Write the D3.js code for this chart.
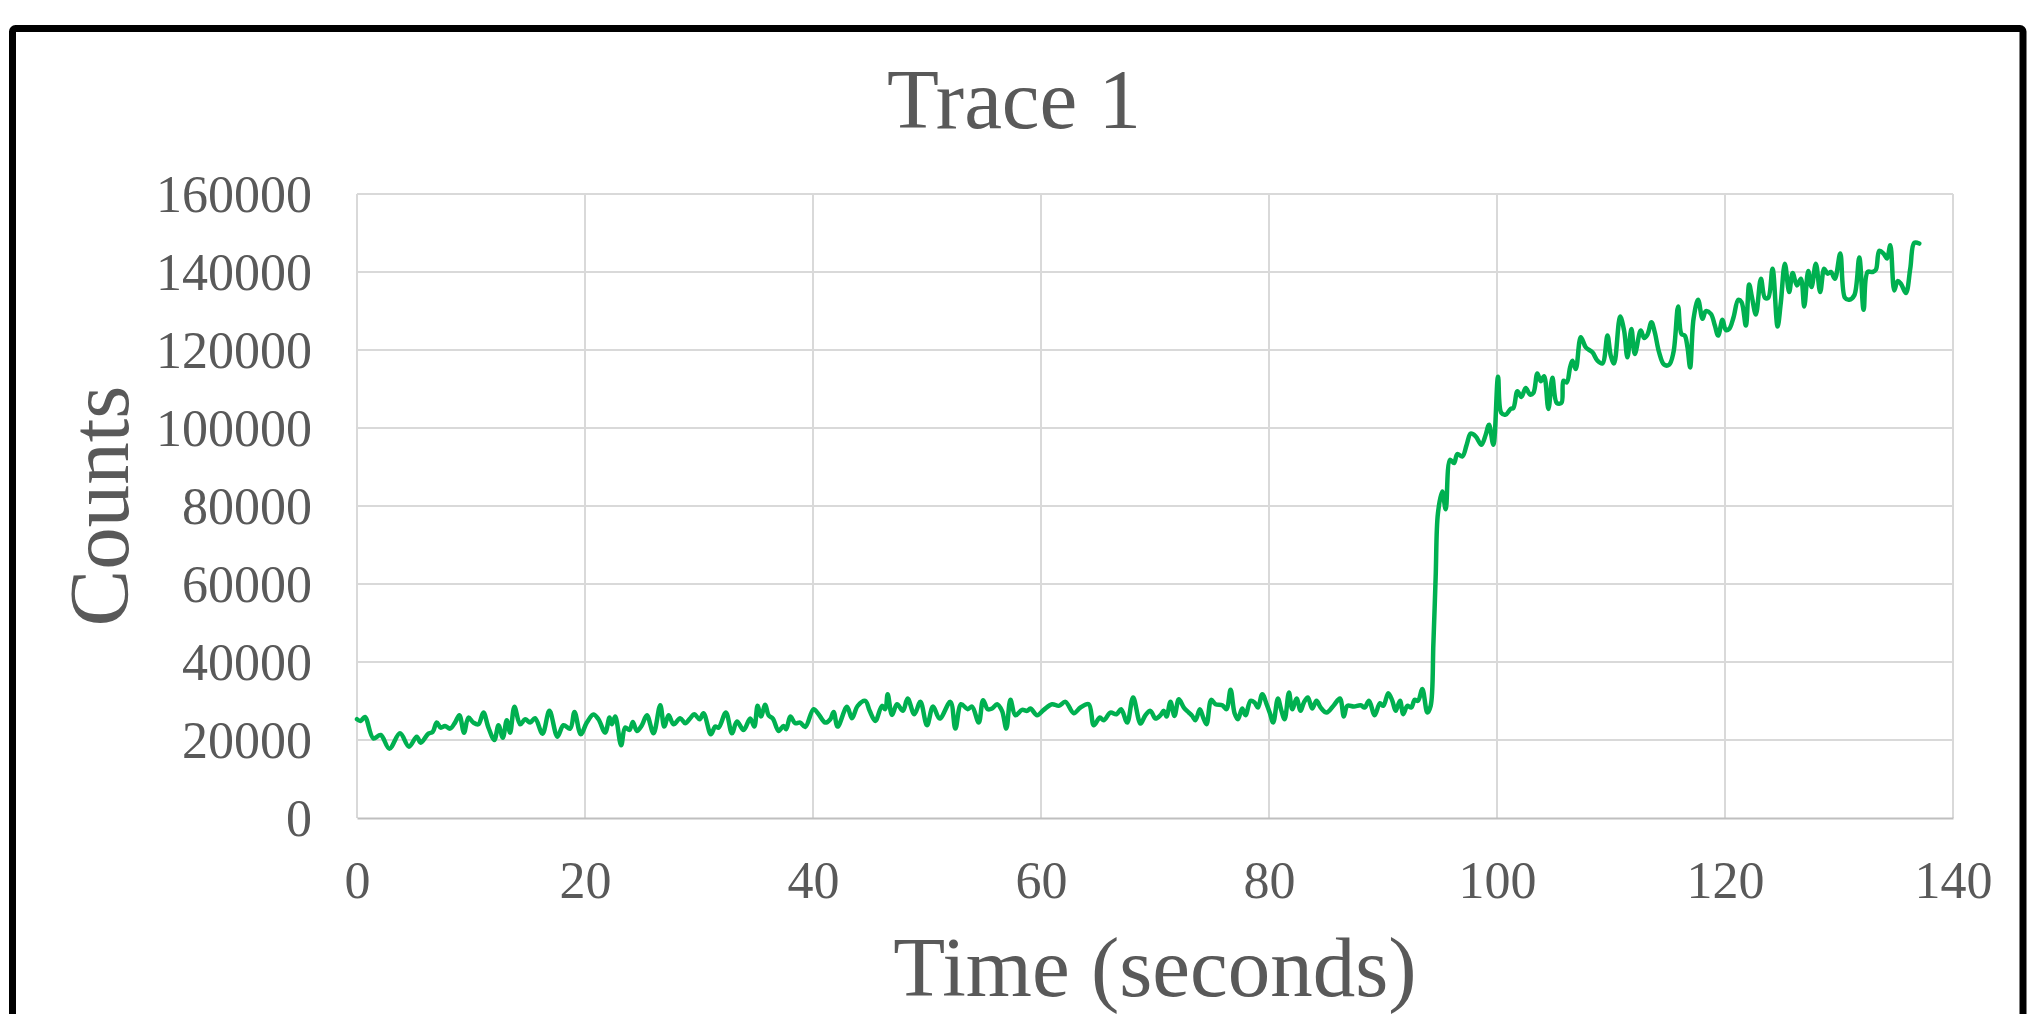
<!DOCTYPE html>
<html>
<head>
<meta charset="utf-8">
<script src="https://cdn.jsdelivr.net/npm/d3@7"></script>
<style>
  html, body { margin: 0; padding: 0; background: #ffffff; }
  svg { display: block; }
  text { font-family: "Liberation Serif", "Times New Roman", "DejaVu Serif", serif; fill: #595959; }
</style>
</head>
<body>
<svg id="chart" width="2027" height="1014"></svg>
<script>
const chartTitle = "Trace 1";
const xTitle = "Time (seconds)";
const yTitle = "Counts";
const xTicks = [0, 20, 40, 60, 80, 100, 120, 140];
const yTicks = [0, 20000, 40000, 60000, 80000, 100000, 120000, 140000, 160000];

const timeSec = [
  0.00, 0.32, 0.70, 1.43, 2.08, 2.84, 3.77, 4.56, 5.24, 5.59, 6.26, 6.64, 6.99, 7.34, 7.72, 8.16, 8.60, 8.98, 9.39, 9.77,
  10.21, 10.65, 11.09, 11.53, 12.05, 12.41, 12.79, 13.14, 13.43, 13.81, 14.31, 14.75, 15.18, 15.62, 16.27, 16.88, 17.58, 18.11, 18.70, 19.08,
  19.63, 20.16, 20.74, 21.18, 21.77, 22.15, 22.35, 22.65, 23.17, 23.52, 23.90, 24.20, 24.55, 24.99, 25.43, 26.01, 26.60, 26.95, 27.33, 27.77,
  28.35, 28.79, 29.23, 29.58, 30.05, 30.40, 31.04, 31.42, 31.72, 32.36, 32.89, 33.33, 33.91, 34.49,
  34.85, 35.14, 35.43, 35.81, 36.10, 36.48, 36.98, 37.42, 37.65, 38.01, 38.44, 38.88, 39.32, 40.05, 40.49, 41.08, 41.52, 41.81, 42.16, 42.98,
  43.42, 43.92, 44.59, 44.97, 45.47, 46.05, 46.34, 46.55, 46.93, 47.37, 47.89, 48.30, 48.89, 49.42, 50.00, 50.53, 51.11, 52.05, 52.49, 52.99,
  53.57, 53.95, 54.54, 54.92, 55.33, 55.71, 56.15, 56.58, 56.96, 57.32, 57.75, 58.34, 58.78, 59.07, 59.66, 60.24, 60.97, 61.56, 62.14, 62.87,
  63.46, 64.19, 64.63, 65.16, 65.51, 66.09, 66.62, 67.03, 67.56, 68.08, 68.73, 69.16, 69.60, 70.04,
  70.48, 70.77, 71.01, 71.36, 71.71, 72.09, 72.53, 72.97, 73.26, 73.55, 73.93, 74.23, 74.52, 74.93, 75.31, 75.90, 76.27, 76.63, 76.98, 77.27,
  77.65, 77.94, 78.38, 78.73, 79.03, 79.41, 79.79, 80.08, 80.37, 80.78, 81.07, 81.37, 81.75, 82.04, 82.42, 82.77, 83.06, 83.41, 83.79, 84.17,
  84.53, 85.05, 85.69, 86.22, 86.57, 86.87, 87.45, 88.04, 88.39, 88.77, 89.27, 89.73, 90.03, 90.46, 90.82, 91.11, 91.49, 91.78, 92.13, 92.48,
  92.78, 93.07, 93.45, 93.89, 94.18,
  94.42, 94.62, 94.82, 95.20, 95.50, 95.88, 96.23, 96.52, 96.96, 97.34, 97.69, 98.13, 98.63, 99.01, 99.30, 99.68, 100.09, 100.38, 100.76, 101.20,
  101.44, 101.79, 102.14, 102.52, 102.90, 103.19, 103.54, 103.84, 104.13, 104.51, 104.86, 105.24, 105.65,
  105.83, 106.12, 106.41, 106.62, 106.91, 107.35, 107.79, 108.37, 108.81, 109.25, 109.69, 109.98, 110.27, 110.80, 111.15, 111.44, 111.79, 112.09,
  112.61, 112.91, 113.20, 113.55, 113.84, 114.22, 114.66, 115.10, 115.48, 115.89, 116.18, 116.47, 116.71, 116.94, 117.24, 117.64, 118.03, 118.32, 118.76, 119.11,
  119.40, 119.78, 120.07, 120.37, 120.75, 121.16, 121.45, 121.83, 122.12, 122.36, 122.71, 123.15, 123.50, 123.79, 124.17, 124.61, 124.90, 125.25, 125.63, 125.93,
  126.31, 126.66, 126.95, 127.30, 127.59, 127.97, 128.35, 128.70, 129.00, 129.29, 129.64, 130.11, 130.52, 130.90, 131.34, 131.78, 132.16, 132.51, 132.95, 133.24,
  133.53, 133.91, 134.21, 134.50, 134.85, 135.14, 135.43, 135.87, 136.25, 136.60, 137.04
];

const counts = [
  25323, 24894, 25924, 20430, 21288, 17769, 21718, 18284, 20859, 19314, 21632, 22061, 24464, 23177, 23606, 22919, 24464, 26353, 21889, 25752,
  24464, 24035, 27040, 23177, 20001, 23778, 20602, 25065, 21889, 28499, 24035, 25323, 24464, 25580, 21632, 27469, 20859, 23778, 22919, 27211,
  21460, 24464, 26525, 25323, 21889, 25752, 24035, 26010, 18627, 23177, 22576, 24636, 22318, 23778, 26353, 21718, 28928, 23434, 26353, 24035,
  25580, 24293, 25580, 26610, 25323, 26868, 21460, 23434, 23177, 27040, 21718, 24722, 22576, 25494,
  23434, 28756, 26010, 29014, 26353, 25494, 22318, 23606, 22748, 26010, 24293, 24464, 23348, 27898, 26610, 24464, 25323, 27211, 23434, 28499,
  25580, 28756, 30044, 27469, 24894, 28756, 27898, 31761, 26439, 29186, 27469, 30645, 26610, 29786, 23778, 28585, 25494, 29786, 22919, 29186,
  27898, 28585, 24464, 30216, 27898, 28070, 29186, 27469, 22919, 30302, 26353, 27726, 27469, 28070, 26353, 27726, 29186, 28756, 29786, 26868,
  28327, 29186, 23778, 25752, 25065, 27040, 26610, 27898, 24464, 30902, 24207, 26353, 27469, 25494,
  26353, 27469, 26010, 29786, 26181, 30473, 28327, 27040, 26181, 25065, 27898, 25752, 24035, 30302, 29186, 28928, 27898, 32877, 26868, 25323,
  28070, 26353, 30044, 29615, 28327, 31761, 29186, 26868, 24464, 30645, 27726, 25323, 32190, 27898, 30645, 27469, 29615, 30902, 28070, 30044,
  28327, 27040, 28928, 30645, 26010, 28756, 28585, 28928, 28327, 30044, 26353, 29443, 28756, 32019, 30044, 27469, 30044, 26610, 28756, 28327,
  30302, 30044, 33048, 27040, 28756,
  44704, 61850, 78138, 83711, 79168, 91856, 90998, 93313, 92713, 95713, 98543, 97857, 95713, 98285, 100857, 95713, 113117, 103858, 103429, 104887,
  105144, 109430, 107973, 110288, 108573, 109002, 113974, 112002, 113288, 104887, 112860, 106430, 106430,
  112102, 111673, 115536, 117252, 115107, 123261, 120686, 119398, 117252, 116566, 123690, 118540, 116566, 128583, 124978, 118111, 125407, 118969,
  124978, 123089, 123948, 127124, 124549, 119398, 116222, 116222, 119398, 131158, 124120, 123690, 120686, 115536, 127982, 132875, 127982, 129957, 129270, 126266,
  123690, 127725, 125150, 125407, 128412, 132875, 132274, 126266, 136824, 133562, 129098, 138283, 133390, 133390, 140858, 126008, 132274, 142146, 134850, 139742,
  136566, 138283, 131158, 140258, 136137, 142146, 134850, 140858, 139571, 140000, 138283, 144721, 133390, 132875, 133991, 143691, 130300, 140000, 140000, 140601,
  145408, 144721, 143434, 146867, 135279, 137682, 136996, 134592, 140858, 147468, 147296
];

const W = 2027, H = 1014;
const plot = { left: 357, right: 1953, top: 194, bottom: 818 };

const svg = d3.select("#chart");

// outer frame
svg.append("rect")
  .attr("x", 12.5).attr("y", 28.5)
  .attr("width", 2010.5).attr("height", 1100)
  .attr("rx", 3)
  .attr("fill", "#ffffff")
  .attr("stroke", "#000000")
  .attr("stroke-width", 7);

const x = d3.scaleLinear().domain([0, 140]).range([plot.left, plot.right]);
const y = d3.scaleLinear().domain([0, 160000]).range([plot.bottom, plot.top]);

// gridlines
const grid = svg.append("g");
grid.selectAll(".hgrid").data(yTicks.filter(d => d !== 0)).enter().append("line")
  .attr("x1", plot.left).attr("x2", plot.right)
  .attr("y1", d => y(d)).attr("y2", d => y(d))
  .attr("stroke", "#d9d9d9").attr("stroke-width", 2);
grid.selectAll(".vgrid").data(xTicks).enter().append("line")
  .attr("x1", d => x(d)).attr("x2", d => x(d))
  .attr("y1", plot.top).attr("y2", plot.bottom)
  .attr("stroke", "#d9d9d9").attr("stroke-width", 2);

// x axis
const xAxis = svg.append("g")
  .attr("transform", `translate(0,${plot.bottom})`)
  .call(d3.axisBottom(x).tickValues(xTicks).tickSize(0).tickFormat(d3.format("d")));
xAxis.select(".domain").attr("stroke", "#bfbfbf").attr("stroke-width", 2);
xAxis.selectAll("text")
  .attr("y", 80).attr("dy", 0)
  .style("font-size", "52px")
  .style("font-family", '"Liberation Serif", "Times New Roman", serif')
  .attr("fill", "#595959");

// y axis
const yAxis = svg.append("g")
  .attr("transform", `translate(${plot.left},0)`)
  .call(d3.axisLeft(y).tickValues(yTicks).tickSize(0).tickFormat(d3.format("d")));
yAxis.select(".domain").remove();
yAxis.selectAll("text")
  .attr("x", -45).attr("dy", "0.345em")
  .style("font-size", "52px")
  .style("font-family", '"Liberation Serif", "Times New Roman", serif')
  .attr("fill", "#595959");

// data line
const data = timeSec.map((t, i) => ({ t, v: counts[i] }));
const line = d3.line()
  .x(d => x(d.t))
  .y(d => y(d.v))
  .curve(d3.curveCatmullRom.alpha(0.5));
svg.append("path")
  .datum(data)
  .attr("d", line)
  .attr("fill", "none")
  .attr("stroke", "#00b050")
  .attr("stroke-width", 4.5)
  .attr("stroke-linejoin", "round")
  .attr("stroke-linecap", "round");

// titles
svg.append("text")
  .attr("x", 1014).attr("y", 128)
  .attr("text-anchor", "middle")
  .style("font-size", "85px")
  .text(chartTitle);

svg.append("text")
  .attr("x", (plot.left + plot.right) / 2).attr("y", 996)
  .attr("text-anchor", "middle")
  .style("font-size", "85px")
  .text(xTitle);

svg.append("text")
  .attr("transform", `translate(128,${(plot.top + plot.bottom) / 2}) rotate(-90)`)
  .attr("text-anchor", "middle")
  .style("font-size", "85px")
  .text(yTitle);
</script>
</body>
</html>
